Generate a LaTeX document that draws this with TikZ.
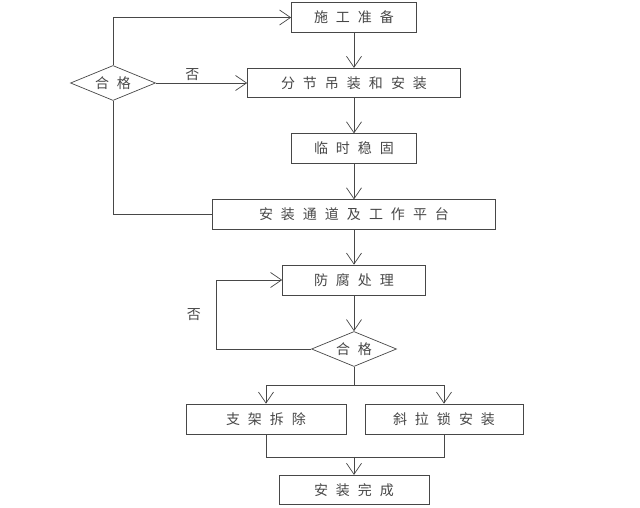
\documentclass[tikz,border=0pt]{standalone}
\usepackage{fontspec}
\usepackage{tikz}
\usetikzlibrary{positioning, shapes.geometric, arrows.meta}
\newfontfamily\cjk{Noto Sans CJK SC}
\newcommand\stagefont{\cjk\fontsize{14pt}{16pt}\selectfont\spaceskip 8pt\relax}

\tikzset{
	stage/.style={draw, rectangle, minimum height=29.5pt, inner sep=0pt},
	decision/.style={draw, diamond, aspect=2.4, minimum width=85pt, minimum height=35pt, inner sep=0pt},
	tag/.style={inner sep=0pt}
}

\begin{document}
\begin{tikzpicture}
	[x=1pt, y=1pt, on grid, auto, color=black!72, line width=0.7pt,
	 >={Straight Barb[length=11pt,width=15pt]}, font=\stagefont]
	\useasboundingbox (0,0) rectangle (640,-508);
	\node[stage, minimum width=125pt] (prep) at (354,-17.5) {施 工 准 备};
	\node[stage, minimum width=213pt] (hoist) [below=65.5pt of prep] {分 节 吊 装 和 安 装};
	\node[stage, minimum width=125pt] (temp) [below=65.5pt of hoist] {临 时 稳 固};
	\node[stage, minimum width=283pt] (platform) [below=66pt of temp] {安 装 通 道 及 工 作 平 台};
	\node[stage, minimum width=143pt, minimum height=30pt] (anti) [below=65.5pt of platform] {防 腐 处 理};
	\node[decision] (check2) [below=69pt of anti] {合 格};
	\node[stage, minimum width=160pt, minimum height=30pt] (remove) [below left=70pt and 88pt of check2] {支 架 拆 除};
	\node[stage, minimum width=158pt, minimum height=30pt] (cable) [below right=70pt and 90pt of check2] {斜 拉 锁 安 装};
	\node[stage, minimum width=150pt] (done) [below=141pt of check2] {安 装 完 成};
	\node[decision] (check1) [left=241pt of hoist] {合 格};
	\coordinate (merge) at ([yshift=18]done.north);

	\path[->]
	(prep) edge (hoist)
	(hoist) edge (temp)
	(temp) edge (platform)
	(platform) edge (anti)
	(anti) edge (check2)
	(merge) edge (done);

	% upper check
	\draw (platform) -| (check1);
	\draw[->] (check1) |- (prep);
	\draw[->] (check1) -- node[tag, pos=0.4, above=2.5pt] {否} (hoist);

	% lower check
	\draw[->] (check2.west) -| node[tag, pos=0.75, left=15pt] {否} ([xshift=-66]anti.west) -- (anti.west);
	\draw (check2.south) -- ++(0,-18) coordinate (split);
	\draw[->] (split) -| (remove);
	\draw[->] (split) -| (cable);
	\draw (remove) |- (merge) -| (cable);
\end{tikzpicture}
\end{document}
